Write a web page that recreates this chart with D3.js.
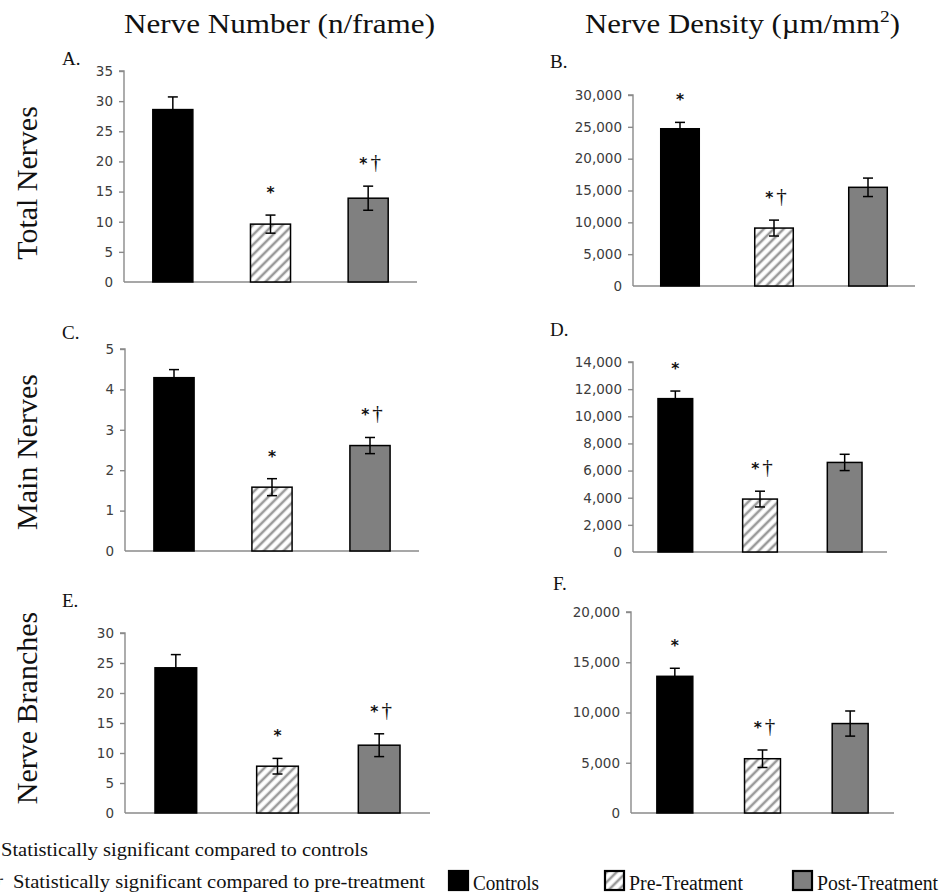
<!DOCTYPE html>
<html>
<head>
<meta charset="utf-8">
<script src="https://cdn.jsdelivr.net/npm/d3@7"></script>
<style>
  body { margin: 0; background: #fff; }
  svg { display: block; }
</style>
</head>
<body>
<svg id="chart" width="942" height="894"></svg>
<script>
// groups, shared by all six panels
var groups = ["Controls", "Pre-Treatment", "Post-Treatment"];

// nerve number (n/frame)
var totalNumber = [28.6, 9.6, 13.9];
var totalNumberErr = [2.1, 1.5, 2.0];
var totalNumberSig = ["", "*", "*†"];
var mainNumber = [4.29, 1.58, 2.61];
var mainNumberErr = [0.2, 0.21, 0.2];
var mainNumberSig = ["", "*", "*†"];
var branchNumber = [24.2, 7.8, 11.3];
var branchNumberErr = [2.2, 1.3, 1.9];
var branchNumberSig = ["", "*", "*†"];

// nerve density (um/mm2)
var totalDensity = [24700, 9100, 15500];
var totalDensityErr = [1000, 1250, 1450];
var totalDensitySig = ["*", "*†", ""];
var mainDensity = [11300, 3900, 6600];
var mainDensityErr = [560, 580, 600];
var mainDensitySig = ["*", "*†", ""];
var branchDensity = [13600, 5400, 8900];
var branchDensityErr = [800, 870, 1250];
var branchDensitySig = ["*", "*†", ""];

// axis tick values
var ticksA = [0, 5, 10, 15, 20, 25, 30, 35];
var ticksB = [0, 5000, 10000, 15000, 20000, 25000, 30000];
var ticksC = [0, 1, 2, 3, 4, 5];
var ticksD = [0, 2000, 4000, 6000, 8000, 10000, 12000, 14000];
var ticksE = [0, 5, 10, 15, 20, 25, 30];
var ticksF = [0, 5000, 10000, 15000, 20000];

var colTitles = ["Nerve Number (n/frame)", "Nerve Density (µm/mm"];
var rowTitles = ["Total Nerves", "Main Nerves", "Nerve Branches"];
var panelLetters = ["A.", "B.", "C.", "D.", "E.", "F."];

var serif = "'Liberation Serif', 'Times New Roman', serif";
var sans = "'DejaVu Sans', Verdana, sans-serif";

var svg = d3.select("#chart");

var defs = svg.append("defs");
var pat = defs.append("pattern")
    .attr("id", "hatch")
    .attr("patternUnits", "userSpaceOnUse")
    .attr("width", 7).attr("height", 7)
    .attr("patternTransform", "rotate(45)");
pat.append("rect").attr("width", 7).attr("height", 7).attr("fill", "#fff");
pat.append("line").attr("x1", 2).attr("y1", 0).attr("x2", 2).attr("y2", 7)
    .attr("stroke", "#9a9a9a").attr("stroke-width", 2.6);

var fills = ["#000", "url(#hatch)", "#808080"];

// panel layout: axis left/right, y of zero and top tick, letter position
var panels = [
  { values: totalNumber, errs: totalNumberErr, sig: totalNumberSig, ticks: ticksA, fmt: d3.format("d"),
    x0: 124, x1: 417, yb: 282, yt: 71, lx: 62, ly: 65 },
  { values: totalDensity, errs: totalDensityErr, sig: totalDensitySig, ticks: ticksB, fmt: d3.format(","),
    x0: 633, x1: 915, yb: 286, yt: 95, lx: 550, ly: 68 },
  { values: mainNumber, errs: mainNumberErr, sig: mainNumberSig, ticks: ticksC, fmt: d3.format("d"),
    x0: 125, x1: 419, yb: 551, yt: 349, lx: 62, ly: 339 },
  { values: mainDensity, errs: mainDensityErr, sig: mainDensitySig, ticks: ticksD, fmt: d3.format(","),
    x0: 633, x1: 887, yb: 552, yt: 362, lx: 550, ly: 336 },
  { values: branchNumber, errs: branchNumberErr, sig: branchNumberSig, ticks: ticksE, fmt: d3.format("d"),
    x0: 125, x1: 430, yb: 813, yt: 633, lx: 62, ly: 607 },
  { values: branchDensity, errs: branchDensityErr, sig: branchDensitySig, ticks: ticksF, fmt: d3.format(","),
    x0: 631, x1: 894, yb: 813, yt: 612, lx: 553, ly: 590 }
];

panels.forEach(function (p, i) {
  var x = d3.scaleBand().domain(groups).range([p.x0, p.x1]).paddingInner(0.59).paddingOuter(0.295);
  var top = p.ticks[p.ticks.length - 1];
  var y = d3.scaleLinear().domain([0, top]).range([p.yb, p.yt]);
  var g = svg.append("g");

  // y axis
  var ax = g.append("g").attr("transform", "translate(" + p.x0 + ",0)")
      .call(d3.axisLeft(y).tickValues(p.ticks).tickFormat(p.fmt).tickSize(5).tickPadding(6));
  ax.select(".domain").attr("d", "M-5," + y(top) + "H0V" + y(0));
  ax.selectAll("path, line").attr("stroke", "#8a8a8a").attr("stroke-width", 1.4);
  ax.selectAll("text").attr("font-family", sans).attr("font-size", 13.5).attr("fill", "#3c3c3c");
  ax.selectAll(".tick").filter(function (d) { return d === 0; }).select("line").remove();

  // x baseline
  g.append("line").attr("x1", p.x0).attr("x2", p.x1).attr("y1", y(0)).attr("y2", y(0))
      .attr("stroke", "#8a8a8a").attr("stroke-width", 1.4);

  var rows = groups.map(function (k, j) {
    return { key: k, v: p.values[j], e: p.errs[j], s: p.sig[j], fill: fills[j] };
  });

  g.selectAll("rect.bar").data(rows).enter().append("rect")
      .attr("class", "bar")
      .attr("x", function (d) { return x(d.key); })
      .attr("width", x.bandwidth())
      .attr("y", function (d) { return y(d.v); })
      .attr("height", function (d) { return y(0) - y(d.v); })
      .attr("fill", function (d) { return d.fill; })
      .attr("stroke", "#000").attr("stroke-width", 1.5);

  // error bars
  var cap = 5;
  var eb = g.selectAll("g.err").data(rows).enter().append("g").attr("class", "err")
      .attr("stroke", "#000").attr("stroke-width", 1.5);
  eb.append("line")
      .attr("x1", function (d) { return x(d.key) + x.bandwidth() / 2; })
      .attr("x2", function (d) { return x(d.key) + x.bandwidth() / 2; })
      .attr("y1", function (d) { return y(d.v - d.e); })
      .attr("y2", function (d) { return y(d.v + d.e); });
  eb.append("line")
      .attr("x1", function (d) { return x(d.key) + x.bandwidth() / 2 - cap; })
      .attr("x2", function (d) { return x(d.key) + x.bandwidth() / 2 + cap; })
      .attr("y1", function (d) { return y(d.v + d.e); })
      .attr("y2", function (d) { return y(d.v + d.e); });
  eb.append("line")
      .attr("x1", function (d) { return x(d.key) + x.bandwidth() / 2 - cap; })
      .attr("x2", function (d) { return x(d.key) + x.bandwidth() / 2 + cap; })
      .attr("y1", function (d) { return y(d.v - d.e); })
      .attr("y2", function (d) { return y(d.v - d.e); });

  // significance marks
  var sig = g.selectAll("text.sig").data(rows.filter(function (d) { return d.s; })).enter()
      .append("text").attr("class", "sig")
      .attr("x", function (d) { return x(d.key) + x.bandwidth() / 2 + (d.s.length > 1 ? 2 : 0); })
      .attr("y", function (d) { return y(d.v + d.e) - 17; })
      .attr("text-anchor", "middle")
      .attr("fill", "#111");
  sig.append("tspan").attr("font-family", sans).attr("font-size", 15.5).attr("font-weight", "bold")
      .text("*");
  sig.append("tspan").attr("font-family", serif).attr("font-size", 21).attr("dx", 3)
      .text(function (d) { return d.s.slice(1); });

  g.append("text").attr("x", p.lx).attr("y", p.ly)
      .attr("font-family", serif).attr("font-size", 19).attr("fill", "#111")
      .text(panelLetters[i]);
});

// column titles
svg.append("text").attr("x", 124).attr("y", 33)
    .attr("font-family", serif).attr("font-size", 27).attr("fill", "#111")
    .attr("textLength", 311).attr("lengthAdjust", "spacingAndGlyphs")
    .text(colTitles[0]);
var t2 = svg.append("text").attr("x", 585).attr("y", 33)
    .attr("font-family", serif).attr("font-size", 27).attr("fill", "#111")
    .attr("textLength", 315).attr("lengthAdjust", "spacingAndGlyphs");
t2.append("tspan").text(colTitles[1]);
t2.append("tspan").attr("font-size", 17).attr("dy", -11).text("2");
t2.append("tspan").attr("dy", 11).text(")");

// row titles
var rowCenters = [183, 452, 708];
rowTitles.forEach(function (t, i) {
  svg.append("text")
      .attr("transform", "translate(37," + rowCenters[i] + ") rotate(-90)")
      .attr("text-anchor", "middle")
      .attr("font-family", serif).attr("font-size", 30).attr("fill", "#111")
      .text(t);
});

// footnotes (their leading symbols sit at the very left edge, as in the original)
svg.append("text").attr("x", -11).attr("y", 856)
    .attr("font-family", serif).attr("font-size", 19).attr("fill", "#111").text("*");
svg.append("text").attr("x", 1).attr("y", 856)
    .attr("font-family", serif).attr("font-size", 19).attr("fill", "#111")
    .attr("textLength", 367).attr("lengthAdjust", "spacingAndGlyphs")
    .text("Statistically significant compared to controls");
svg.append("text").attr("x", -6).attr("y", 888)
    .attr("font-family", serif).attr("font-size", 19).attr("fill", "#111").text("†");
svg.append("text").attr("x", 13).attr("y", 888)
    .attr("font-family", serif).attr("font-size", 19).attr("fill", "#111")
    .attr("textLength", 412).attr("lengthAdjust", "spacingAndGlyphs")
    .text("Statistically significant compared to pre-treatment");

// legend
var legX = [449, 605, 793];
var legW = [66, 114, 121];
var leg = svg.selectAll("g.leg").data(groups).enter().append("g").attr("class", "leg")
    .attr("transform", function (d, i) { return "translate(" + legX[i] + ",871)"; });
leg.append("rect").attr("width", 19).attr("height", 19)
    .attr("fill", function (d, i) { return fills[i]; })
    .attr("stroke", "#000").attr("stroke-width", 2.2);
leg.append("text").attr("x", 24).attr("y", 19)
    .attr("font-family", serif).attr("font-size", 20).attr("fill", "#111")
    .attr("textLength", function (d, i) { return legW[i]; })
    .attr("lengthAdjust", "spacingAndGlyphs")
    .text(function (d) { return d; });
</script>
</body>
</html>
